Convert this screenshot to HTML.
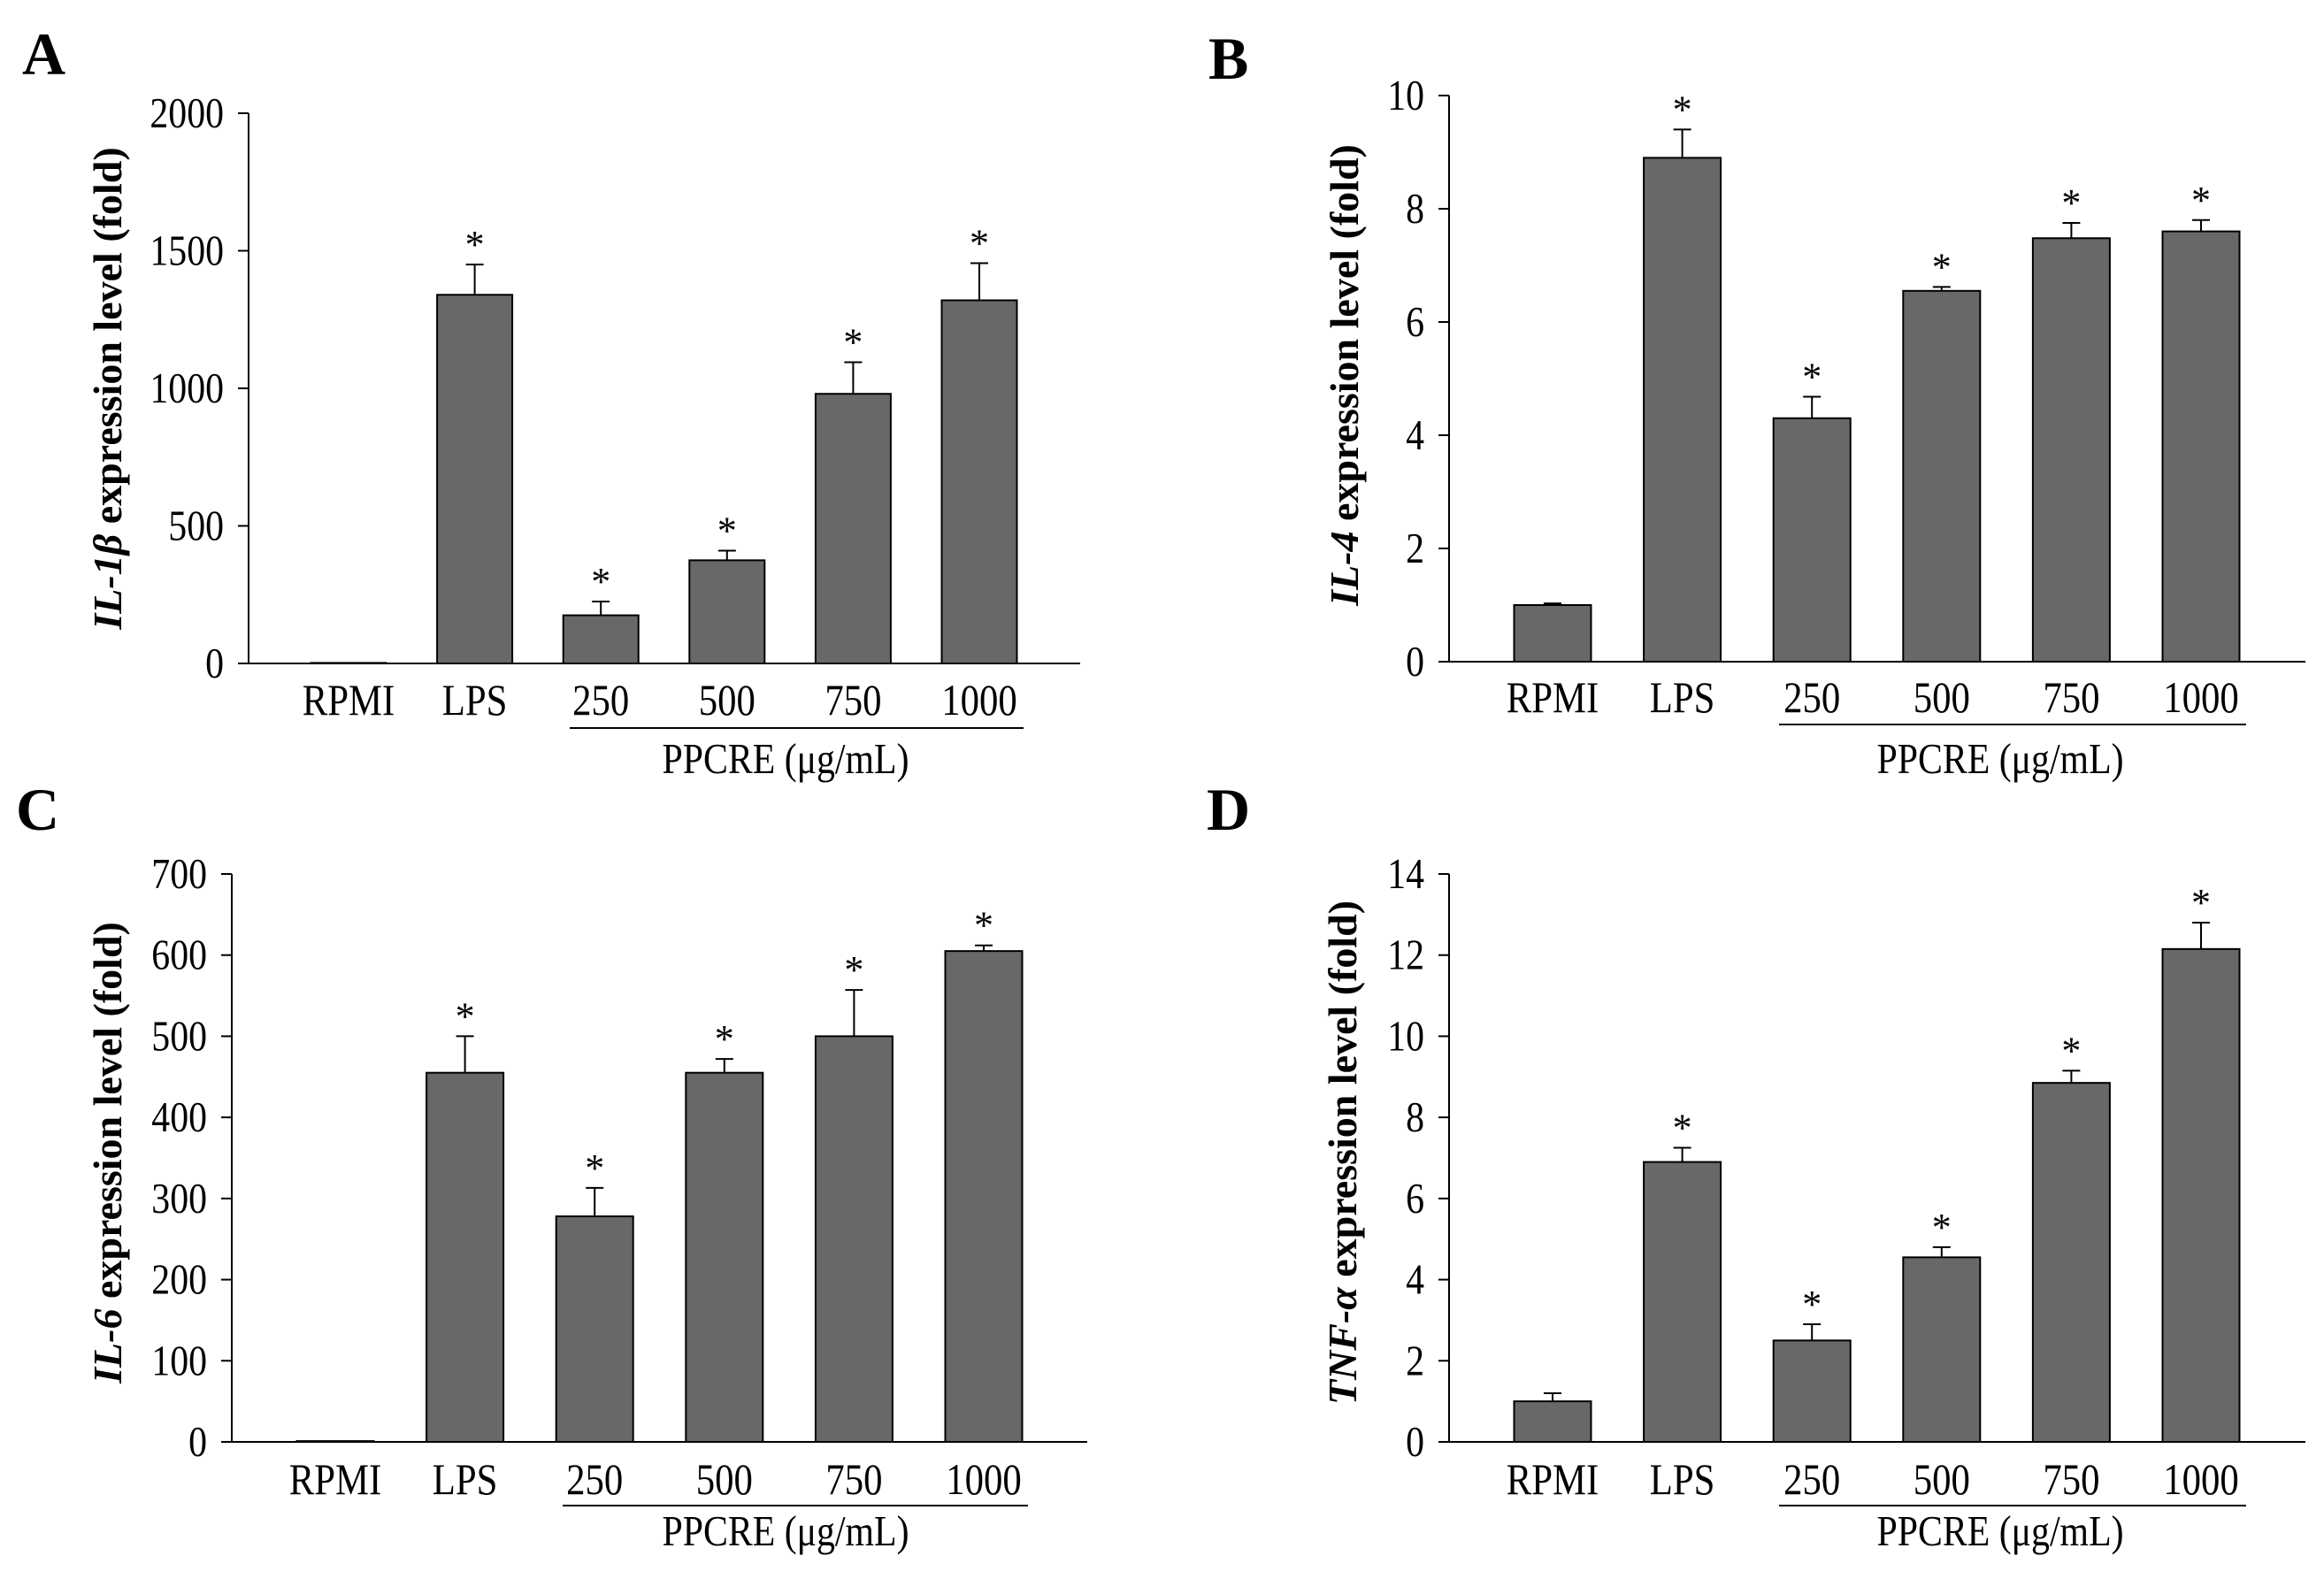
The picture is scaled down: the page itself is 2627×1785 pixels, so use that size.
<!DOCTYPE html>
<html><head><meta charset="utf-8"><style>
html,body{margin:0;padding:0;background:#fff}
svg{display:block}
text{font-family:"Liberation Serif",serif;fill:#000}
</style></head><body>
<svg id="fig" width="2627" height="1785" viewBox="0 0 2627 1785" xmlns="http://www.w3.org/2000/svg"></svg>
<script>
const categories = ["RPMI","LPS","250","500","750","1000"];
const seriesA = [2,1340,175,375,980,1320];
const errA = [2,1450,225,410,1095,1455];
const seriesB = [1.0,8.9,4.3,6.55,7.48,7.6];
const errB = [1.03,9.4,4.68,6.62,7.75,7.8];
const seriesC = [1,455,278,455,500,605];
const errC = [1,500,313,472,557,612];
const seriesD = [1.0,6.9,2.5,4.55,8.85,12.15];
const errD = [1.2,7.25,2.9,4.8,9.15,12.8];
const sigA = [false,true,true,true,true,true];
const sigB = [false,true,true,true,true,true];
const sigC = [false,true,true,true,true,true];
const sigD = [false,true,true,true,true,true];
const ticksA = [0,500,1000,1500,2000];
const ticksB = [0,2,4,6,8,10];
const ticksC = [0,100,200,300,400,500,600,700];
const ticksD = [0,2,4,6,8,10,12,14];

const NS="http://www.w3.org/2000/svg";
const svg=document.getElementById('fig');
function mk(tag,attrs,parent){const e=document.createElementNS(NS,tag);for(const k in attrs)e.setAttribute(k,attrs[k]);(parent||svg).appendChild(e);return e;}

const panels=[
 {id:'a',letter:'A',lx:25,ly:84,ax:281,top:128,zero:750,right:1221,c0:394,step:142.6,bw:85,ymax:2000,
  vals:seriesA,errs:errA,sig:sigA,ticks:ticksA,gene:'IL-1\u03B2',tx:121,ty:439,ul:[644,1157],lab:808,ulY:823,pp:[888,874]},
 {id:'b',letter:'B',lx:1366,ly:89,ax:1638,top:108,zero:748,right:2606,c0:1755,step:146.6,bw:87,ymax:10,
  vals:seriesB,errs:errB,sig:sigB,ticks:ticksB,gene:'IL-4',tx:1519,ty:424,ul:[2011,2539],lab:805,ulY:819,pp:[2261,874]},
 {id:'c',letter:'C',lx:18,ly:938,ax:262,top:988,zero:1630,right:1229,c0:379,step:146.6,bw:87,ymax:700,
  vals:seriesC,errs:errC,sig:sigC,ticks:ticksC,gene:'IL-6',tx:121,ty:1303,ul:[636,1162],lab:1689,ulY:1702,pp:[888,1747]},
 {id:'d',letter:'D',lx:1364,ly:938,ax:1638,top:988,zero:1630,right:2606,c0:1755,step:146.6,bw:87,ymax:14,
  vals:seriesD,errs:errD,sig:sigD,ticks:ticksD,gene:'TNF-\u03B1',tx:1517,ty:1303,ul:[2011,2539],lab:1689,ulY:1702,pp:[2261,1747]}
];

panels.forEach(p=>{
  const g=mk('g',{});
  
  
  const y=v=>p.zero-(v/p.ymax)*(p.zero-p.top);
  const x=i=>p.c0+i*p.step;
  const L=mk('text',{x:p.lx,y:p.ly,'font-size':68,'font-weight':'bold'},g);L.textContent=p.letter;
  
  
  p.vals.forEach((v,i)=>{
    const r=mk('rect',{x:x(i)-p.bw/2,y:y(v),width:p.bw,height:p.zero-y(v),fill:'#686868',stroke:'#000','stroke-width':2},g);
    
    
    const e=p.errs[i];
    if(e>v){
      const el=mk('path',{d:`M${x(i)} ${y(v)}V${y(e)}M${x(i)-10} ${y(e)}H${x(i)+10}`,stroke:'#000','stroke-width':2,fill:'none'},g);
      
      
    }
    if(p.sig[i]){
      const s=mk('text',{x:x(i),y:y(Math.max(e,v))-8,'font-size':44,'text-anchor':'middle'},g);s.textContent='*';
      
      
    }
    const t=mk('text',{x:x(i),y:p.lab,'font-size':45,'text-anchor':'middle',transform:`translate(${x(i)},${p.lab}) scale(0.95,1.1) translate(${-x(i)},${-p.lab})`},g);t.textContent=categories[i];
    
    
  });
  const ax=mk('path',{d:`M${p.ax} ${p.top}V${p.zero}H${p.right}`,stroke:'#000','stroke-width':2,fill:'none'},g);
  
  
  p.ticks.forEach(tv=>{
    mk('line',{x1:p.ax-12,x2:p.ax,y1:y(tv),y2:y(tv),stroke:'#000','stroke-width':2},g);
    const tx=p.ax-28, ty=y(tv)+16;
    const t=mk('text',{x:tx,y:ty,'font-size':44,'text-anchor':'end',transform:`translate(${tx},${ty}) scale(0.95,1.1) translate(${-tx},${-ty})`},g);t.textContent=tv;
    
    
  });
  const ul=mk('line',{x1:p.ul[0],x2:p.ul[1],y1:p.ulY,y2:p.ulY,stroke:'#000','stroke-width':2},g);
  
  
  const pp=mk('text',{x:p.pp[0],y:p.pp[1],'font-size':44,'text-anchor':'middle',transform:`translate(${p.pp[0]},${p.pp[1]}) scale(0.95,1.1) translate(${-p.pp[0]},${-p.pp[1]})`},g);pp.textContent='PPCRE (\u03BCg/mL)';
  
  
  const tt=mk('text',{x:0,y:0,'font-size':46,'font-weight':'bold','text-anchor':'middle',transform:`translate(${p.tx+16},${p.ty}) rotate(-90)`},g);
  
  
  const ts=mk('tspan',{'font-style':'italic'},tt);ts.textContent=p.gene;
  const ts2=mk('tspan',{},tt);ts2.textContent=' expression level (fold)';
});
</script>
</body></html>
